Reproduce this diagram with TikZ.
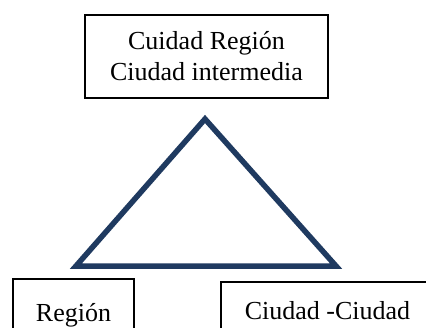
\documentclass[tikz,border=0pt]{standalone}
\usepackage{fontspec}
\setmainfont{Liberation Serif}
\definecolor{tri}{RGB}{31,58,96}
\begin{document}
\begin{tikzpicture}[x=1pt,y=-1pt,
  boxnode/.style={draw=black,line width=1.3pt,inner sep=0pt,align=center,
    font=\fontsize{26}{31}\selectfont}]
\clip (0,0) rectangle (426,327);
\fill[white] (0,0) rectangle (426,327);
\node[boxnode,minimum width=243pt,minimum height=83pt] (top) at (206.5,56.5)
  {Cuidad Región\\Ciudad intermedia};
\coordinate (apex) at (205,119);
\coordinate (bl) at (76,266);
\coordinate (br) at (336,266);
\draw[tri,line width=5.5pt,line join=miter] (apex) -- (bl) -- (br) -- cycle;
\node[boxnode,minimum width=121pt,minimum height=72pt] (reg) at (73.5,315) {Región};
\node[boxnode,minimum width=213pt,minimum height=58pt] (cc) at (327.5,311) {Ciudad -Ciudad};
\end{tikzpicture}
\end{document}
